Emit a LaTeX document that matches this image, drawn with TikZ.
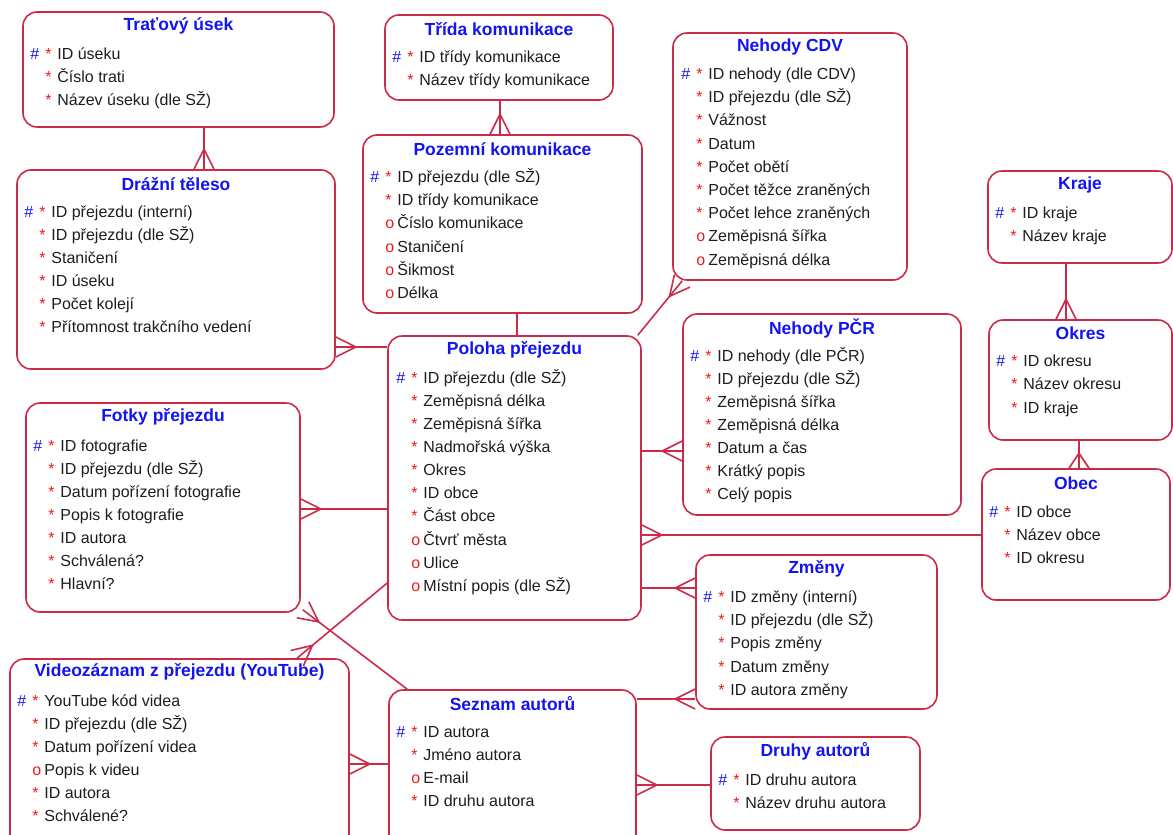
\documentclass[tikz,border=0pt]{standalone}
\usepackage{fontspec}
\setmainfont{Liberation Sans}
\usepackage{xcolor}
\usepackage{tikz}
\usetikzlibrary{calc}
\definecolor{erred}{HTML}{CC2A48}
\definecolor{erblue}{HTML}{1414F0}
\definecolor{attrred}{HTML}{F01C1C}
\definecolor{attrtext}{HTML}{1E1E1E}
\newcommand{\attrpk}[1]{\makebox[15pt][l]{\textcolor{erblue}{\#}}\makebox[12pt][l]{\textcolor{attrred}{*}}#1}
\newcommand{\attrmn}[1]{\hspace*{15pt}\makebox[12pt][l]{\textcolor{attrred}{*}}#1}
\newcommand{\attrop}[1]{\hspace*{15pt}\makebox[12pt][l]{\textcolor{attrred}{o}}#1}
\newcommand{\crowfoot}[3][20pt]{%
  \draw[relline] ($(#2)!10pt!90:(#3)$) -- ($(#2)!#1!(#3)$) -- ($(#2)!10pt!-90:(#3)$);}
\tikzset{
  entity/.style={draw=erred, line width=1.6pt, rounded corners=14pt, inner sep=0pt, fill=white},
  etitle/.style={font=\fontsize{17.5}{20}\selectfont\bfseries, text=erblue, inner sep=0pt},
  attr/.style={anchor=west, font=\fontsize{16}{19}\selectfont, text=attrtext, inner sep=0pt, text height=11.5pt, text depth=3.5pt},
  relline/.style={draw=erred, line width=1.6pt}
}

\begin{document}
\begin{tikzpicture}[x=1pt,y=-1pt]
    \useasboundingbox (0,0) rectangle (1173,835);
    \clip (0,0) rectangle (1173,835);

    \node[entity, minimum width=311pt, minimum height=115pt] (usek) at (178.5,69.5) {};
    \node[etitle] (usek-t) at ([yshift=-15pt]usek.north) {Traťový úsek};
    \foreach \a [count=\i] in {\attrpk{ID úseku}, \attrmn{Číslo trati}, \attrmn{Název úseku (dle SŽ)}}
      \node[attr] (usek-\i) at ($(usek.north west)+(8,21+23*\i)$) {\a};

    \node[entity, minimum width=228pt, minimum height=85pt] (trida) at (499,57.5) {};
    \node[etitle] (trida-t) at ([yshift=-15pt]trida.north) {Třída komunikace};
    \foreach \a [count=\i] in {\attrpk{ID třídy komunikace}, \attrmn{Název třídy komunikace}}
      \node[attr] (trida-\i) at ($(trida.north west)+(8,21+23*\i)$) {\a};

    \node[entity, minimum width=234pt, minimum height=247pt] (cdv) at (790,156.5) {};
    \node[etitle] (cdv-t) at ([yshift=-15pt]cdv.north) {Nehody CDV};
    \foreach \a [count=\i] in {\attrpk{ID nehody (dle CDV)}, \attrmn{ID přejezdu (dle SŽ)}, \attrmn{Vážnost}, \attrmn{Datum},
        \attrmn{Počet obětí}, \attrmn{Počet těžce zraněných}, \attrmn{Počet lehce zraněných}, \attrop{Zeměpisná šířka}, \attrop{Zeměpisná délka}}
      \node[attr] (cdv-\i) at ($(cdv.north west)+(9,20+23.2*\i)$) {\a};

    \node[entity, minimum width=184pt, minimum height=92pt] (kraje) at (1080,217) {};
    \node[etitle] (kraje-t) at ([yshift=-15pt]kraje.north) {Kraje};
    \foreach \a [count=\i] in {\attrpk{ID kraje}, \attrmn{Název kraje}}
      \node[attr] (kraje-\i) at ($(kraje.north west)+(8,21+23*\i)$) {\a};

    \node[entity, minimum width=318pt, minimum height=199pt] (draz) at (176,269.5) {};
    \node[etitle] (draz-t) at ([yshift=-15pt]draz.north) {Drážní těleso};
    \foreach \a [count=\i] in {\attrpk{ID přejezdu (interní)}, \attrmn{ID přejezdu (dle SŽ)}, \attrmn{Staničení}, \attrmn{ID úseku},
        \attrmn{Počet kolejí}, \attrmn{Přítomnost trakčního vedení}}
      \node[attr] (draz-\i) at ($(draz.north west)+(8,21+23*\i)$) {\a};

    \node[entity, minimum width=279pt, minimum height=178pt] (pozem) at (502.5,224) {};
    \node[etitle] (pozem-t) at ([yshift=-15pt]pozem.north) {Pozemní komunikace};
    \foreach \a [count=\i] in {\attrpk{ID přejezdu (dle SŽ)}, \attrmn{ID třídy komunikace}, \attrop{Číslo komunikace}, \attrop{Staničení},
        \attrop{Šikmost}, \attrop{Délka}}
      \node[attr] (pozem-\i) at ($(pozem.north west)+(8,21+23.2*\i)$) {\a};

    \node[entity, minimum width=253pt, minimum height=284pt] (poloha) at (514.5,478) {};
    \node[etitle] (poloha-t) at ([yshift=-15pt]poloha.north) {Poloha přejezdu};
    \foreach \a [count=\i] in {\attrpk{ID přejezdu (dle SŽ)}, \attrmn{Zeměpisná délka}, \attrmn{Zeměpisná šířka}, \attrmn{Nadmořská výška},
        \attrmn{Okres}, \attrmn{ID obce}, \attrmn{Část obce}, \attrop{Čtvrť města}, \attrop{Ulice}, \attrop{Místní popis (dle SŽ)}}
      \node[attr] (poloha-\i) at ($(poloha.north west)+(9,21+23.1*\i)$) {\a};

    \node[entity, minimum width=278pt, minimum height=201pt] (pcr) at (822,414.5) {};
    \node[etitle] (pcr-t) at ([yshift=-15pt]pcr.north) {Nehody PČR};
    \foreach \a [count=\i] in {\attrpk{ID nehody (dle PČR)}, \attrmn{ID přejezdu (dle SŽ)}, \attrmn{Zeměpisná šířka}, \attrmn{Zeměpisná délka},
        \attrmn{Datum a čas}, \attrmn{Krátký popis}, \attrmn{Celý popis}}
      \node[attr] (pcr-\i) at ($(pcr.north west)+(8,21+23.1*\i)$) {\a};

    \node[entity, minimum width=183pt, minimum height=120pt] (okres) at (1080.5,380) {};
    \node[etitle] (okres-t) at ([yshift=-14pt]okres.north) {Okres};
    \foreach \a [count=\i] in {\attrpk{ID okresu}, \attrmn{Název okresu}, \attrmn{ID kraje}}
      \node[attr] (okres-\i) at ($(okres.north west)+(8,20+23.3*\i)$) {\a};

    \node[entity, minimum width=188pt, minimum height=131pt] (obec) at (1076,534.5) {};
    \node[etitle] (obec-t) at ([yshift=-15pt]obec.north) {Obec};
    \foreach \a [count=\i] in {\attrpk{ID obce}, \attrmn{Název obce}, \attrmn{ID okresu}}
      \node[attr] (obec-\i) at ($(obec.north west)+(8,22+23*\i)$) {\a};

    \node[entity, minimum width=274pt, minimum height=209pt] (fotky) at (163,507.5) {};
    \node[etitle] (fotky-t) at ([yshift=-15pt]fotky.north) {Fotky přejezdu};
    \foreach \a [count=\i] in {\attrpk{ID fotografie}, \attrmn{ID přejezdu (dle SŽ)}, \attrmn{Datum pořízení fotografie},
        \attrmn{Popis k fotografie}, \attrmn{ID autora}, \attrmn{Schválená?}, \attrmn{Hlavní?}}
      \node[attr] (fotky-\i) at ($(fotky.north west)+(8,22+23*\i)$) {\a};

    \node[entity, minimum width=241pt, minimum height=154pt] (zmeny) at (816.5,632) {};
    \node[etitle] (zmeny-t) at ([yshift=-15pt]zmeny.north) {Změny};
    \foreach \a [count=\i] in {\attrpk{ID změny (interní)}, \attrmn{ID přejezdu (dle SŽ)}, \attrmn{Popis změny}, \attrmn{Datum změny},
        \attrmn{ID autora změny}}
      \node[attr] (zmeny-\i) at ($(zmeny.north west)+(8,21+23.2*\i)$) {\a};

    \node[entity, minimum width=339pt, minimum height=196pt] (video) at (179.5,757) {};
    \node[etitle] (video-t) at ([yshift=-14pt]video.north) {Videozáznam z přejezdu (YouTube)};
    \foreach \a [count=\i] in {\attrpk{YouTube kód videa}, \attrmn{ID přejezdu (dle SŽ)}, \attrmn{Datum pořízení videa},
        \attrop{Popis k videu}, \attrmn{ID autora}, \attrmn{Schválené?}}
      \node[attr] (video-\i) at ($(video.north west)+(8,21+23*\i)$) {\a};

    \node[entity, minimum width=247pt, minimum height=165pt] (seznam) at (512.5,772.5) {};
    \node[etitle] (seznam-t) at ([yshift=-14pt]seznam.north) {Seznam autorů};
    \foreach \a [count=\i] in {\attrpk{ID autora}, \attrmn{Jméno autora}, \attrop{E-mail}, \attrmn{ID druhu autora}}
      \node[attr] (seznam-\i) at ($(seznam.north west)+(8,21+23*\i)$) {\a};

    \node[entity, minimum width=209pt, minimum height=93pt] (druhy) at (815.5,783.5) {};
    \node[etitle] (druhy-t) at ([yshift=-15pt]druhy.north) {Druhy autorů};
    \foreach \a [count=\i] in {\attrpk{ID druhu autora}, \attrmn{Název druhu autora}}
      \node[attr] (druhy-\i) at ($(druhy.north west)+(8,22+23*\i)$) {\a};

    \coordinate (r1a) at ([xshift=25.5pt]usek.south);
    \coordinate (r1b) at (r1a |- draz.north);
    \draw[relline] (r1a) -- (r1b);
    \crowfoot{r1b}{r1a}

    \coordinate (r2a) at ([xshift=1pt]trida.south);
    \coordinate (r2b) at (r2a |- pozem.north);
    \draw[relline] (r2a) -- (r2b);
    \crowfoot{r2b}{r2a}

    \coordinate (r3a) at ([xshift=14.5pt]pozem.south);
    \coordinate (r3b) at (r3a |- poloha.north);
    \draw[relline] (r3a) -- (r3b);

    \coordinate (r4a) at ([xshift=-4pt]poloha.north east);
    \coordinate (r4b) at ([xshift=10pt]cdv.south west);
    \draw[relline] (r4a) -- (r4b);
    \crowfoot{r4b}{r4a}

    \coordinate (r5a) at ([yshift=-77.5pt]draz.east);
    \coordinate (r5b) at (r5a -| poloha.west);
    \draw[relline] (r5a) -- (r5b);
    \crowfoot{r5a}{r5b}

    \coordinate (r6a) at ([yshift=-36.5pt]pcr.west);
    \coordinate (r6b) at (r6a -| poloha.east);
    \draw[relline] (r6a) -- (r6b);
    \crowfoot{r6a}{r6b}

    \coordinate (r7a) at ([yshift=-0.5pt]obec.west);
    \coordinate (r7b) at (r7a -| poloha.east);
    \draw[relline] (r7a) -- (r7b);
    \crowfoot{r7b}{r7a}

    \coordinate (r8a) at ([yshift=44pt]zmeny.west);
    \coordinate (r8b) at (r8a -| poloha.east);
    \draw[relline] (r8a) -- (r8b);
    \crowfoot{r8a}{r8b}

    \coordinate (r9a) at ([yshift=-1.5pt]fotky.east);
    \coordinate (r9b) at (r9a -| poloha.west);
    \draw[relline] (r9a) -- (r9b);
    \crowfoot{r9a}{r9b}

    \coordinate (r10a) at ([xshift=117.5pt]video.north);
    \coordinate (r10b) at ([yshift=-105pt]poloha.west);
    \draw[relline] (r10a) -- (r10b);
    \crowfoot{r10a}{r10b}

    \coordinate (r11a) at ([xshift=2pt,yshift=3pt]fotky.south east);
    \coordinate (r11b) at ([xshift=19pt]seznam.north west);
    \draw[relline] (r11a) -- (r11b);
    \crowfoot{r11a}{r11b}

    \coordinate (r12a) at ([yshift=73.5pt]seznam.east);
    \coordinate (r12b) at (r12a -| zmeny.west);
    \draw[relline] (r12a) -- (r12b);
    \crowfoot{r12b}{r12a}

    \coordinate (r13a) at ([yshift=-7pt]video.east);
    \coordinate (r13b) at (r13a -| seznam.west);
    \draw[relline] (r13a) -- (r13b);
    \crowfoot{r13a}{r13b}

    \coordinate (r14a) at ([yshift=-1.5pt]druhy.west);
    \coordinate (r14b) at (r14a -| seznam.east);
    \draw[relline] (r14a) -- (r14b);
    \crowfoot{r14b}{r14a}

    \coordinate (r15a) at ([xshift=-14pt]kraje.south);
    \coordinate (r15b) at (r15a |- okres.north);
    \draw[relline] (r15a) -- (r15b);
    \crowfoot{r15b}{r15a}

    \coordinate (r16a) at ([xshift=-1.5pt]okres.south);
    \coordinate (r16b) at (r16a |- obec.north);
    \draw[relline] (r16a) -- (r16b);
    \crowfoot[15pt]{r16b}{r16a}
  \end{tikzpicture}
\end{document}
